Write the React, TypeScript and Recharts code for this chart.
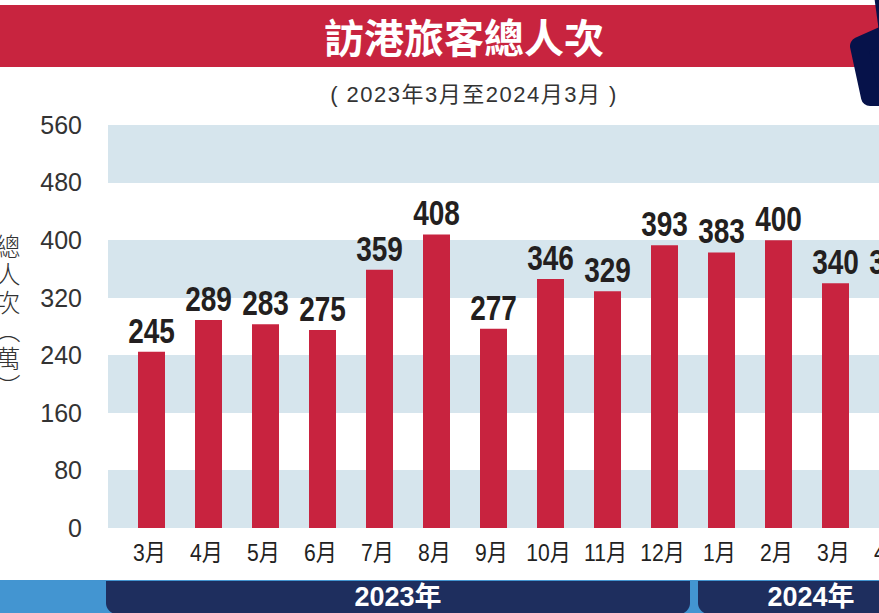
import React from 'react';
import { BarChart, Bar, XAxis, YAxis, LabelList, CartesianGrid } from 'recharts';

const months = ['3月', '4月', '5月', '6月', '7月', '8月', '9月', '10月', '11月', '12月', '1月', '2月', '3月', '4月'];
const visitors = [245, 289, 283, 275, 359, 408, 277, 346, 329, 393, 383, 400, 340, 341];
const yTicks = [0, 80, 160, 240, 320, 400, 480, 560];
const yearGroups = [
  { label: '2023年', left: 106, width: 584 },
  { label: '2024年', left: 698, width: 226 },
];

const data = months.map((m, i) => ({ month: m, value: visitors[i] }));

const SANS = '"Liberation Sans", Arial';
const CJK = '"Noto Sans CJK TC", "Noto Sans CJK SC", sans-serif';

const ValueLabel = (props: any) => {
  const { x, y, width, value } = props;
  const cx = Number(x) + Number(width) / 2;
  const by = Number(y) - 9;
  return (
    <text
      transform={`translate(${cx},${by}) scale(0.8,1)`}
      textAnchor="middle"
      fontSize={35}
      fontWeight={700}
      fill="#231f20"
      fontFamily={`${SANS}, sans-serif`}
    >
      {value}
    </text>
  );
};

const MonthTick = (props: any) => {
  const { x, y, payload } = props;
  return (
    <text
      transform={`translate(${Number(x) - 2},${Number(y) + 27}) scale(0.88,1)`}
      textAnchor="middle"
      fontSize={24}
      fill="#222"
      fontFamily={`${SANS}, ${CJK}`}
    >
      {payload.value}
    </text>
  );
};

export default function App() {
  return (
    <div style={{ position: 'absolute', left: 0, top: 0, width: 879, height: 613, overflow: 'hidden', background: '#fff' }}>
      {/* title banner */}
      <div style={{ position: 'absolute', left: 0, top: 5, width: 879, height: 62, background: '#c8243f' }} />
      <div style={{ position: 'absolute', left: 0, top: 5, width: 928, height: 62, lineHeight: '62px', textAlign: 'center', color: '#fff', fontSize: 40, fontWeight: 700, fontFamily: CJK }}>訪港旅客總人次</div>
      <svg style={{ position: 'absolute', left: 0, top: 0 }} width={879} height={613}>
        <polygon points="874,-5 895,-5 895,32 879,32" fill="#06124a" />
        <polygon points="886,34 859,46 870,97 900,97 900,34" fill="#06124a" stroke="#06124a" strokeWidth={18} strokeLinejoin="round" />
      </svg>
      <div style={{ position: 'absolute', left: 0, top: 76, width: 948, textAlign: 'center', color: '#333', fontSize: 22, letterSpacing: '1.5px', fontFamily: `${SANS}, ${CJK}` }}>( 2023年3月至2024月3月 )</div>

      {/* y axis title */}
      <div style={{ position: 'absolute', left: -5, top: 234, writingMode: 'vertical-rl', fontSize: 25, letterSpacing: '3px', lineHeight: '26px', color: '#333', fontFamily: CJK, fontWeight: 300 }}>總人次（萬）</div>

      {/* bottom year bar */}
      <div style={{ position: 'absolute', left: 0, top: 580, width: 879, height: 33, background: '#4395d1' }} />
      {yearGroups.map((g) => (
        <div key={g.label} style={{ position: 'absolute', left: g.left, top: 581, width: g.width, height: 33, background: '#1e2e5e', borderBottomLeftRadius: 11, borderBottomRightRadius: 11, color: '#fff', fontSize: 27, fontWeight: 700, lineHeight: '32px', textAlign: 'center', fontFamily: `${SANS}, ${CJK}` }}>{g.label}</div>
      ))}

      <div style={{ position: 'absolute', left: 0, top: 0 }}>
        <BarChart width={940} height={613} data={data} margin={{ top: 125, right: 4, left: 0, bottom: 45 }}>
          <CartesianGrid
            vertical={false}
            horizontal={true}
            stroke="transparent"
            horizontalFill={['#d6e5ed', '#ffffff']}
            fillOpacity={1}
          />
          <XAxis
            dataKey="month"
            axisLine={false}
            tickLine={false}
            height={40}
            tickMargin={0}
            padding={{ left: 15, right: 15 }}
            interval={0}
            tick={<MonthTick />}
          />
          <YAxis
            domain={[0, 560]}
            ticks={yTicks}
            axisLine={false}
            tickLine={false}
            width={108}
            tickMargin={20}
            interval={0}
            tick={{ fontSize: 25, fill: '#333', fontFamily: `${SANS}, sans-serif` }}
          />
          <Bar dataKey="value" fill="#c8233f" barSize={27} isAnimationActive={false}>
            <LabelList dataKey="value" content={<ValueLabel />} />
          </Bar>
        </BarChart>
      </div>
    </div>
  );
}
